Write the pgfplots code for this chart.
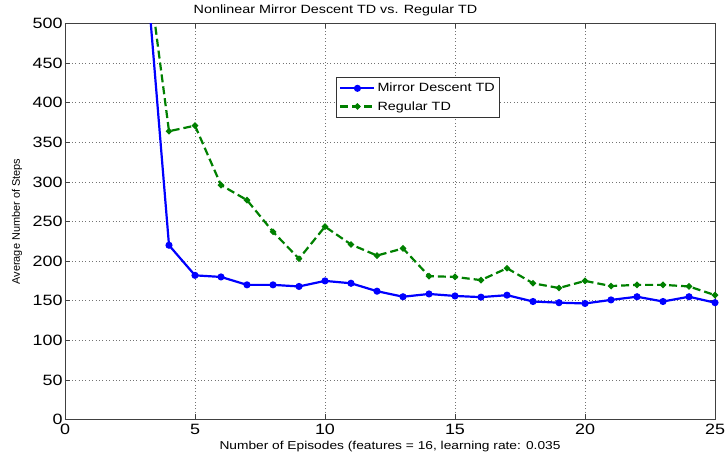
\documentclass[border=0pt]{standalone}
\usepackage{fontspec}
\setmainfont[FakeStretch=1.2]{Liberation Sans}
\newfontfamily\ylabfont{Liberation Sans}
\usepackage{pgfplots}
\pgfplotsset{compat=1.18}
\definecolor{mblue}{RGB}{0,0,255}
\definecolor{mgreen}{RGB}{0,128,0}
\begin{document}
\begin{tikzpicture}
\begin{axis}[
  name=ax,
  scale only axis,
  width=650bp, height=396bp,
  xmin=0, xmax=25, ymin=0, ymax=500,
  xtick={0,5,...,25}, ytick={0,50,...,500},
  /pgf/number format/assume math mode=true,
  tick label style={font=\fontsize{15}{15}\selectfont},
  xticklabel style={yshift=-1bp},
  yticklabel style={xshift=1bp},
  grid=major,
  grid style={dash pattern=on 0.8bp off 2.6bp, black!55, line width=0.6pt},
  axis line style={black!75, line width=0.7pt},
  tick style={black!75, line width=0.6pt},
  major tick length=5bp,
  tick align=inside,
  legend style={at={(rel axis cs:0.417,0.865)}, anchor=north west,
    font=\fontsize{12}{13}\selectfont, draw=black!80, line width=0.6pt,
    inner xsep=3bp, inner ysep=4bp, row sep=4bp, cells={anchor=west}},
  legend image code/.code={%
    \draw[#1] (0bp,0bp) -- (34bp,0bp);
    \draw[#1, dash pattern=on 0pt off 0pt] plot coordinates {(17bp,0bp)};},
]
\addplot[color=mblue, line width=2.2bp, mark=*, mark size=2.4bp, mark options={solid}]
coordinates {(3,620) (4,220) (5,182) (6,180) (7,170) (8,170) (9,168) (10,175)
 (11,172) (12,162) (13,155) (14,158.5) (15,156) (16,154.5) (17,157) (18,149)
 (19,147.5) (20,146.5) (21,151) (22,155) (23,149) (24,155) (25,147.5)};
\addlegendentry{Mirror Descent TD}
\addplot[color=mgreen, line width=2.2bp, dash pattern=on 8bp off 4bp, mark=*, mark size=1.9bp, mark options={solid}]
coordinates {(3,616) (4,364) (5,371) (6,296) (7,277) (8,237) (9,203) (10,243.5)
 (11,221) (12,207) (13,216) (14,181) (15,180) (16,176) (17,191) (18,172)
 (19,166) (20,175) (21,168.5) (22,170) (23,170) (24,168) (25,157)};
\addlegendentry{Regular TD}
\end{axis}
\node[font=\fontsize{12}{12}\selectfont] at ([shift={(270.5bp,13.5bp)}]ax.north west) {Nonlinear Mirror Descent TD vs. Regular TD};
\node[font=\fontsize{11.5}{12}\selectfont] at ([yshift=-27.5bp]ax.south) {Number of Episodes (features = 16, learning rate: 0.035};
\node[font=\ylabfont\fontsize{11}{11}\selectfont, rotate=90] at ([xshift=-48bp]ax.west) {Average Number of Steps};
\pgfresetboundingbox
\path[use as bounding box] ([shift={(-65bp,-35.5bp)}]ax.south west) rectangle ([shift={(11bp,23.5bp)}]ax.north east);
\end{tikzpicture}
\end{document}
